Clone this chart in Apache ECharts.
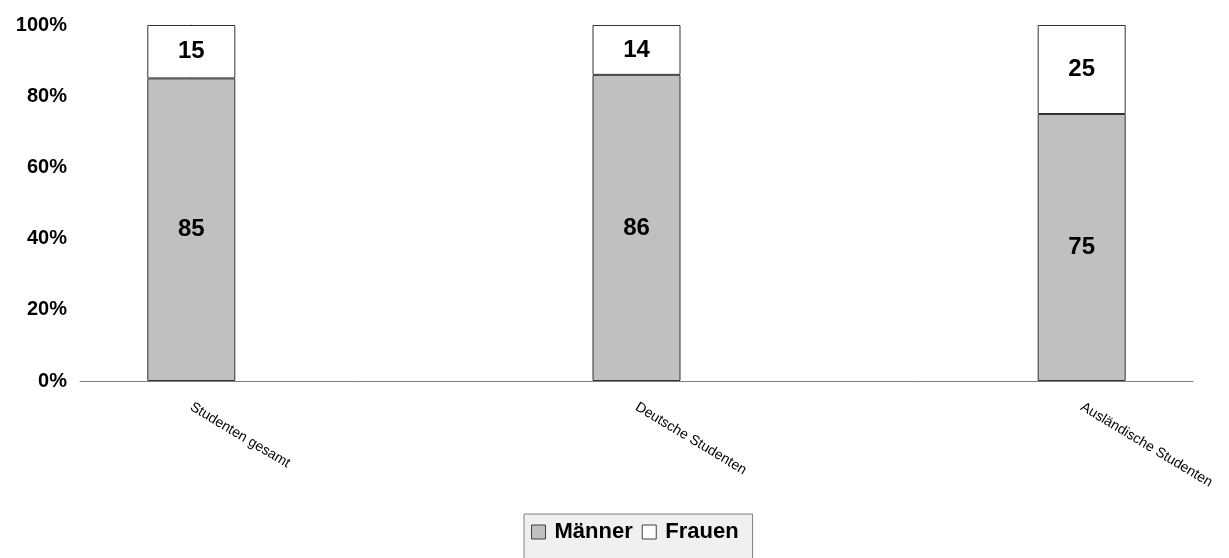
<!DOCTYPE html>
<html>
<head>
<meta charset="utf-8">
<script src="https://cdn.jsdelivr.net/npm/echarts@6/dist/echarts.min.js"></script>
<style>
    html, body { margin: 0; padding: 0; background: #fff; }
    #chart { width: 1229px; height: 558px; }
</style>
</head>
<body>
<div id="chart"></div>
<script>
const categories = ['Studenten gesamt', 'Deutsche Studenten', 'Ausländische Studenten']
const maenner = [85, 86, 75]
const frauen = [15, 14, 25]
const yTicks = [0, 20, 40, 60, 80, 100]

const font = 'Arial, "Liberation Sans", sans-serif'
const isWhole = v => Math.abs(v - Math.round(v)) < 1e-6

const chart = echarts.init(document.getElementById('chart'))
// value first, position second: keeps the stack on the y dimension
const toPairs = arr => arr.map((v, i) => [v, i])
const barLabel = {
    show: true,
    position: 'inside',
    color: '#000',
    fontFamily: font,
    fontWeight: 'bold',
    fontSize: 24,
    formatter: p => p.value[0]
}
const option = {
    animation: false,
    grid: { left: 80, right: 36, top: 25, bottom: 177 },
    xAxis: {
        type: 'value',
        min: -0.25,
        max: 2.25,
        interval: 0.25,
        splitLine: { show: false },
        axisTick: { show: false },
        axisLine: { show: true, lineStyle: { color: '#808080', width: 1 } },
        axisLabel: {
            rotate: -31,
            margin: 25,
            color: '#000',
            fontFamily: font,
            fontSize: 14,
            showMinLabel: true,
            showMaxLabel: true,
            formatter: v => isWhole(v) ? (categories[Math.round(v)] || '') : ''
        }
    },
    yAxis: {
        type: 'value',
        min: yTicks[0],
        max: yTicks[yTicks.length - 1],
        interval: 20,
        splitLine: { show: false },
        axisLine: { show: true, lineStyle: { color: '#808080', width: 1 } },
        axisTick: { show: true, inside: false, length: 5, lineStyle: { color: '#808080' } },
        axisLabel: {
            margin: 13,
            color: '#000',
            fontFamily: font,
            fontWeight: 'bold',
            fontSize: 20,
            formatter: '{value}%'
        }
    },
    legend: {
        left: 524,
        top: 514,
        padding: [7, 14, 22, 7],
        backgroundColor: '#f0f0f0',
        borderColor: '#808080',
        borderWidth: 1,
        itemWidth: 14,
        itemHeight: 14,
        itemGap: 9,
        icon: 'rect',
        itemStyle: { borderColor: '#404040', borderWidth: 1 },
        textStyle: { color: '#000', fontFamily: font, fontWeight: 'bold', fontSize: 22, padding: [0, 0, 0, 4] },
        data: ['Männer', 'Frauen']
    },
    series: [
        {
            name: 'Männer',
            type: 'bar',
            stack: 'total',
            barWidth: 88,
            encode: { x: 1, y: 0 },
            itemStyle: { color: '#c0c0c0', borderColor: '#333', borderWidth: 1 },
            label: barLabel,
            data: toPairs(maenner)
        },
        {
            name: 'Frauen',
            type: 'bar',
            stack: 'total',
            barWidth: 88,
            encode: { x: 1, y: 0 },
            itemStyle: { color: '#ffffff', borderColor: '#333', borderWidth: 1 },
            label: barLabel,
            data: toPairs(frauen)
        }
    ]
}
chart.setOption(option)
</script>
</body>
</html>
